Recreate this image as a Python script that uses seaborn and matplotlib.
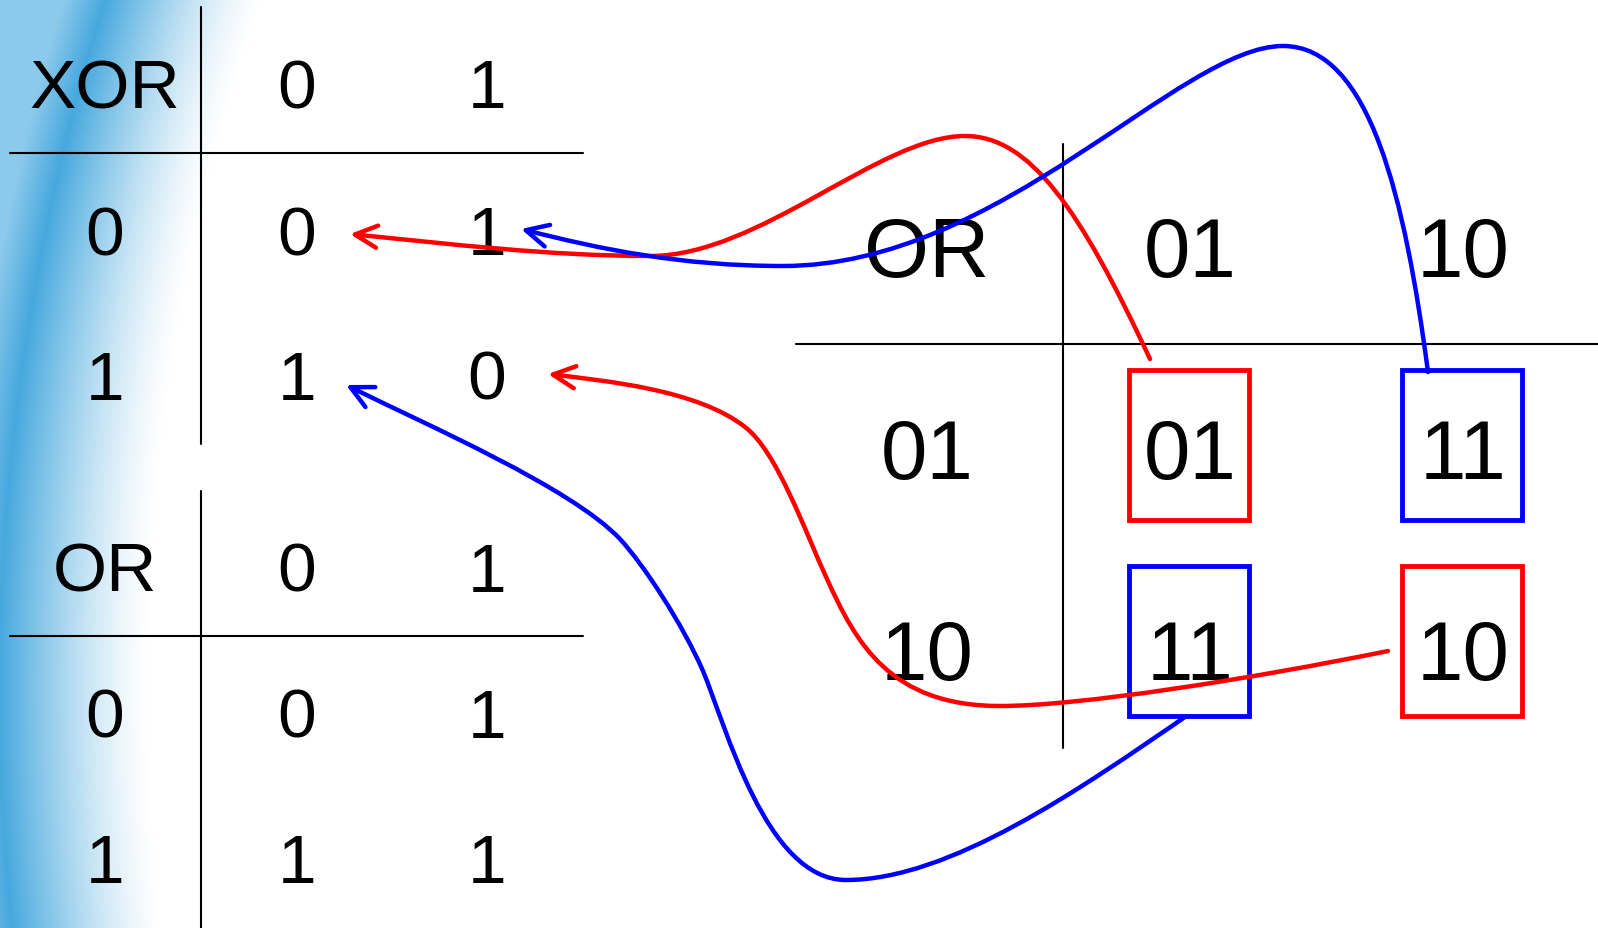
import numpy as np
import seaborn as sns
from matplotlib import pyplot as plt
from matplotlib.path import Path
from matplotlib.patches import FancyArrowPatch, Rectangle, ArrowStyle

# truth tables shown on the slide
xor_header = ["XOR", "0", "1"]
xor_rows = [["0", "0", "1"],
            ["1", "1", "0"]]
or_header = ["OR", "0", "1"]
or_rows = [["0", "0", "1"],
           ["1", "1", "1"]]
or2_header = ["OR", "01", "10"]
or2_rows = [["01", "01", "11"],
            ["10", "11", "10"]]
# colour of the frame round each cell of the 2-bit OR table
or2_marks = [["red", "blue"],
             ["blue", "red"]]

W, H = 1598, 929


def swoosh_background(ax):
    # the blue arc on the left edge of the slide
    h, w = H, 330
    yy, xx = np.mgrid[0:h, 0:w] + 0.5
    cx, cy, r = 2300, 690, 2300
    out = np.hypot(xx - cx, yy - cy) - r
    img = np.ones((h, w, 4))
    edge = np.array([70, 168, 222]) / 255.
    light = np.array([140, 202, 236]) / 255.
    fade = np.clip(1 + out / 150., 0, 1) ** 1.4
    band = np.clip(1 - out / 40., 0, 1)
    col = np.where((out > 0)[..., None],
                   band[..., None] * edge + (1 - band[..., None]) * light,
                   edge)
    img[..., :3] = col
    img[..., 3] = np.where(out > 0, 1.0, fade)
    ax.imshow(img, extent=[0, w, h, 0], zorder=0, interpolation='bilinear')


def draw_table(ax, header, rows, xs, ys, size):
    for x, t in zip(xs, header):
        ax.text(x, ys[0], t, ha='center', va='baseline', fontsize=size, zorder=2)
    for y, row in zip(ys[1:], rows):
        for x, t in zip(xs, row):
            ax.text(x, y, t, ha='center', va='baseline', fontsize=size, zorder=2)


def curve(ax, verts, color):
    codes = [Path.MOVETO] + [Path.CURVE4] * (len(verts) - 1)
    arrow = FancyArrowPatch(path=Path(verts, codes),
                            arrowstyle=ArrowStyle('->', head_length=16, head_width=8),
                            mutation_scale=1, lw=3.2, color=color,
                            zorder=5 if color == 'blue' else 4)
    ax.add_patch(arrow)


def main():
    sns.set_theme(style="white")
    plt.rcParams['font.family'] = ['Liberation Sans', 'DejaVu Sans']
    plt.rcParams['text.color'] = 'black'

    fig = plt.figure(figsize=(W / 100, H / 100), dpi=100)
    ax = fig.add_axes([0, 0, 1, 1])
    swoosh_background(ax)
    ax.set_xlim(0, W)
    ax.set_ylim(H, 0)
    ax.set_aspect('auto')
    ax.axis('off')

    # left tables
    ax.plot([201, 201], [8, 445], color='black', lw=1.5, zorder=1)
    ax.plot([10, 583], [154, 154], color='black', lw=1.5, zorder=1)
    draw_table(ax, xor_header, xor_rows, [105, 297, 487], [108, 255, 400], 50)

    ax.plot([201, 201], [492, 929], color='black', lw=1.5, zorder=1)
    ax.plot([10, 583], [637, 637], color='black', lw=1.5, zorder=1)
    draw_table(ax, or_header, or_rows, [105, 297, 487], [592, 738, 883], 50)

    # right 2-bit table
    ax.plot([1063, 1063], [145, 749], color='black', lw=1.5, zorder=1)
    ax.plot([796, 1598], [345, 345], color='black', lw=1.5, zorder=1)
    draw_table(ax, or2_header, or2_rows, [927, 1190, 1463], [277, 479, 680], 60)

    for i, row in enumerate(or2_marks):
        for j, c in enumerate(row):
            ax.add_patch(Rectangle((1129 + 273 * j, 371 + 196 * i), 120, 150,
                                   fill=False, edgecolor=c, lw=3.5, zorder=3))

    # arrows from the 2-bit OR results back to the XOR cells
    curve(ax, [(1150, 360), (1080, 210), (1030, 137), (965, 137),
               (880, 137), (760, 257), (650, 257),
               (550, 257), (450, 245), (350, 235)], 'red')
    curve(ax, [(1428, 373), (1405, 200), (1370, 47), (1283, 47),
               (1180, 47), (1000, 267), (783, 267),
               (680, 267), (600, 250), (521, 230)], 'blue')
    curve(ax, [(1388, 652), (1250, 680), (1080, 707), (1000, 707),
               (890, 707), (856, 644), (827, 580),
               (806, 535), (777, 452), (745, 428),
               (698, 391), (607, 382), (548, 375)], 'red')
    curve(ax, [(1185, 718), (1080, 790), (950, 881), (846, 881),
               (766, 881), (726, 727), (703, 672),
               (683, 626), (644, 566), (620, 540),
               (572, 489), (427, 426), (346, 386)], 'blue')

    fig.savefig('out.png', dpi=100, facecolor='white')


if __name__ == '__main__':
    main()
